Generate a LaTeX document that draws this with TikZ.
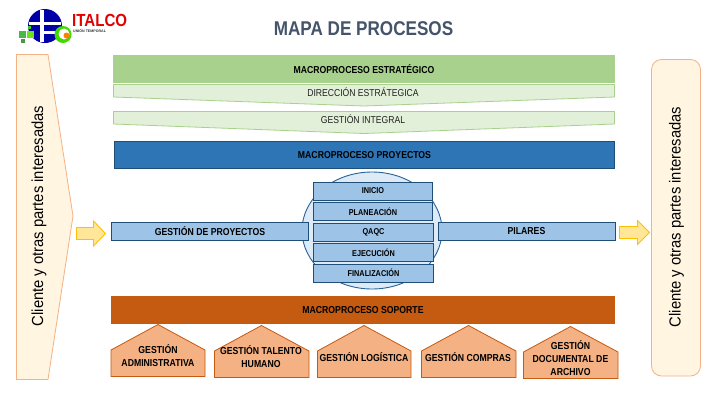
\documentclass[tikz,border=0pt]{standalone}
\usepackage{fontspec}
\setmainfont{Liberation Sans}
\newfontfamily\narrowfont[FakeStretch=0.86]{Liberation Sans}
\newfontfamily\sidefont[FakeStretch=0.925]{Liberation Sans}
\usetikzlibrary{positioning}
\definecolor{greenhead}{HTML}{A9D18E}
\definecolor{greenlight}{HTML}{E2F0D9}
\definecolor{bluehead}{HTML}{2E75B6}
\definecolor{bluedark}{HTML}{1F4E79}
\definecolor{bluebox}{HTML}{9DC3E6}
\definecolor{bluecircle}{HTML}{DEEBF7}
\definecolor{orangehead}{HTML}{C55A11}
\definecolor{orangelight}{HTML}{F4B183}
\definecolor{creamfill}{HTML}{FFF5E1}
\definecolor{yellowfill}{HTML}{FFE699}
\definecolor{yellowline}{HTML}{FFC000}
\definecolor{titlegray}{HTML}{44546A}
\tikzset{
  boldlabel/.style={font=\narrowfont\bfseries\fontsize{10.1}{13}\selectfont, text=black, align=center, inner sep=0pt},
  planlabel/.style={font=\narrowfont\fontsize{10}{12}\selectfont, text=black!88, align=center, inner sep=0pt},
  sidelabel/.style={font=\sidefont\fontsize{16}{18}\selectfont, text=black, rotate=90, inner sep=0pt},
  stepbox/.style={draw=bluedark, fill=bluebox, line width=0.8pt, minimum width=120pt, minimum height=18pt, inner sep=0pt,
    font=\narrowfont\bfseries\fontsize{8.5}{10}\selectfont},
  housebox/.style={draw=orangehead, fill=orangelight, line width=0.8pt, line join=miter},
  chevronbox/.style={draw=greenhead, fill=greenlight, line width=0.8pt},
  sidearrow/.style={draw=yellowline, fill=yellowfill, line width=0.9pt}
}
\begin{document}
\begin{tikzpicture}[x=1pt, y=-1pt]
\useasboundingbox (0,0) rectangle (720,405);
\fill[white] (0,0) rectangle (720,405);
% Logo
\fill[blue!65!black] (45,26) circle (17);
\fill[white] (29,21.5) rectangle (61,24.5);
\fill[white] (39.5,10) rectangle (43.5,42);
\fill[white] (43.5,31) rectangle (59,33.5);
\fill[green!45!gray] (18.5,31) rectangle (26,38);
\fill[green!60!yellow!80!gray] (26.5,30.5) rectangle (33.5,37.5);
\fill[green!60!gray] (27.5,25.5) rectangle (31,29);
\fill[green!40!black!70] (21,39) rectangle (25,43);
\fill[green!70!yellow!85!black] (63,34.5) circle (8.5);
\fill[white] (64,34) circle (5.5);
\fill[orange] (66.5,35.5) circle (3);
\node[font=\narrowfont\bfseries\fontsize{17.5}{19}\selectfont, text=red!90!black, anchor=west, inner sep=0pt] (logoname) at (72,20.5) {ITALCO};
\node[font=\bfseries\fontsize{3.6}{4}\selectfont, text=black!80, anchor=west, inner sep=0pt] (logosub) at (73,31) {UNIÓN TEMPORAL};
% Title
\node[font=\narrowfont\bfseries\fontsize{19.9}{23}\selectfont, text=titlegray, inner sep=0pt] (title) at (363.5,29) {MAPA DE PROCESOS};
% Side blocks
\draw[draw=orangelight, fill=creamfill, line width=0.8pt] (16.5,54.5) -- (48,54.5) -- (73,216) -- (48,379.5) -- (16.5,379.5) -- cycle;
\node[sidelabel] (clientin) at (39,216) {Cliente y otras partes interesadas};
\draw[draw=orangelight, fill=creamfill, line width=0.8pt, rounded corners=10pt] (651.5,59.5) rectangle (700.5,376);
\node[sidelabel] (clientout) at (676.5,217) {Cliente y otras partes interesadas};
% Strategic
\node[fill=greenhead, minimum width=502pt, minimum height=28pt, boldlabel] (estrategico) at (364,69) {\raisebox{0.7pt}{MACROPROCESO ESTRATÉGICO}};
\draw[chevronbox] (113.5,84.5) -- (614.5,84.5) -- (614.5,97) -- (364,106) -- (113.5,97) -- cycle;
\node[planlabel] (direccion) at (363,92) {DIRECCIÓN ESTRÁTEGICA};
\draw[chevronbox] (113.5,111.5) -- (614.5,111.5) -- (614.5,124) -- (364,133.5) -- (113.5,124) -- cycle;
\node[planlabel] (integral) at (363,119) {GESTIÓN INTEGRAL};
% Projects
\node[draw=bluedark, fill=bluehead, line width=0.8pt, minimum width=500pt, minimum height=27pt, boldlabel] (proyectos) at (364.5,155) {MACROPROCESO PROYECTOS};
\draw[draw=bluehead!85!black, fill=bluecircle, line width=0.9pt] (372,230.5) ellipse (70 and 58.5);
\node[stepbox, minimum width=119.5pt] (inicio) at (373,191) {INICIO};
\node[stepbox, minimum width=119.5pt] (planeacion) at (373,211.5) {PLANEACIÓN};
\node[stepbox] (qaqc) at (373.5,232) {QAQC};
\node[stepbox] (ejecucion) at (373.5,252.5) {EJECUCIÓN};
\node[stepbox] (finalizacion) at (373.5,273) {FINALIZACIÓN};
\node[draw=bluedark, fill=bluebox, line width=0.8pt, minimum width=197pt, minimum height=17.5pt, boldlabel] (gestionproy) at (210,231.5) {GESTIÓN DE PROYECTOS};
\node[draw=bluedark, fill=bluebox, line width=0.8pt, minimum width=177pt, minimum height=17.5pt, boldlabel] (pilares) at (526.5,231.5) {PILARES};
% Arrows
\draw[sidearrow] (76.5,227.5) -- (93.5,227.5) -- (93.5,221) -- (105.5,233.5) -- (93.5,246) -- (93.5,239.5) -- (76.5,239.5) -- cycle;
\draw[sidearrow] (619.5,226.5) -- (637.5,226.5) -- (637.5,220.5) -- (649.5,232.5) -- (637.5,244.5) -- (637.5,238.5) -- (619.5,238.5) -- cycle;
% Support
\node[fill=orangehead, minimum width=504pt, minimum height=28pt, boldlabel] (soporte) at (363,310) {\raisebox{0.7pt}{MACROPROCESO SOPORTE}};
\draw[housebox] (158,324.5) -- (205,350) -- (205,376.5) -- (111,376.5) -- (111,350) -- cycle;
\node[boldlabel] (administrativa) at (158,356) {GESTIÓN\\ADMINISTRATIVA};
\draw[housebox] (261.5,325.5) -- (309,351) -- (309,377.5) -- (214.5,377.5) -- (214.5,351) -- cycle;
\node[boldlabel] (talento) at (261,357) {GESTIÓN TALENTO\\HUMANO};
\draw[housebox] (364,325.5) -- (411,351) -- (411,377.5) -- (317.5,377.5) -- (317.5,351) -- cycle;
\node[boldlabel] (logistica) at (364,357) {GESTIÓN LOGÍSTICA};
\draw[housebox] (468.5,325.5) -- (516,351) -- (516,377.5) -- (421.5,377.5) -- (421.5,351) -- cycle;
\node[boldlabel] (compras) at (468,357) {GESTIÓN COMPRAS};
\draw[housebox] (570.5,326.5) -- (618,352) -- (618,378.5) -- (523.5,378.5) -- (523.5,352) -- cycle;
\node[boldlabel] (archivo) at (570.5,358) {GESTIÓN\\DOCUMENTAL DE\\ARCHIVO};
\end{tikzpicture}
\end{document}
